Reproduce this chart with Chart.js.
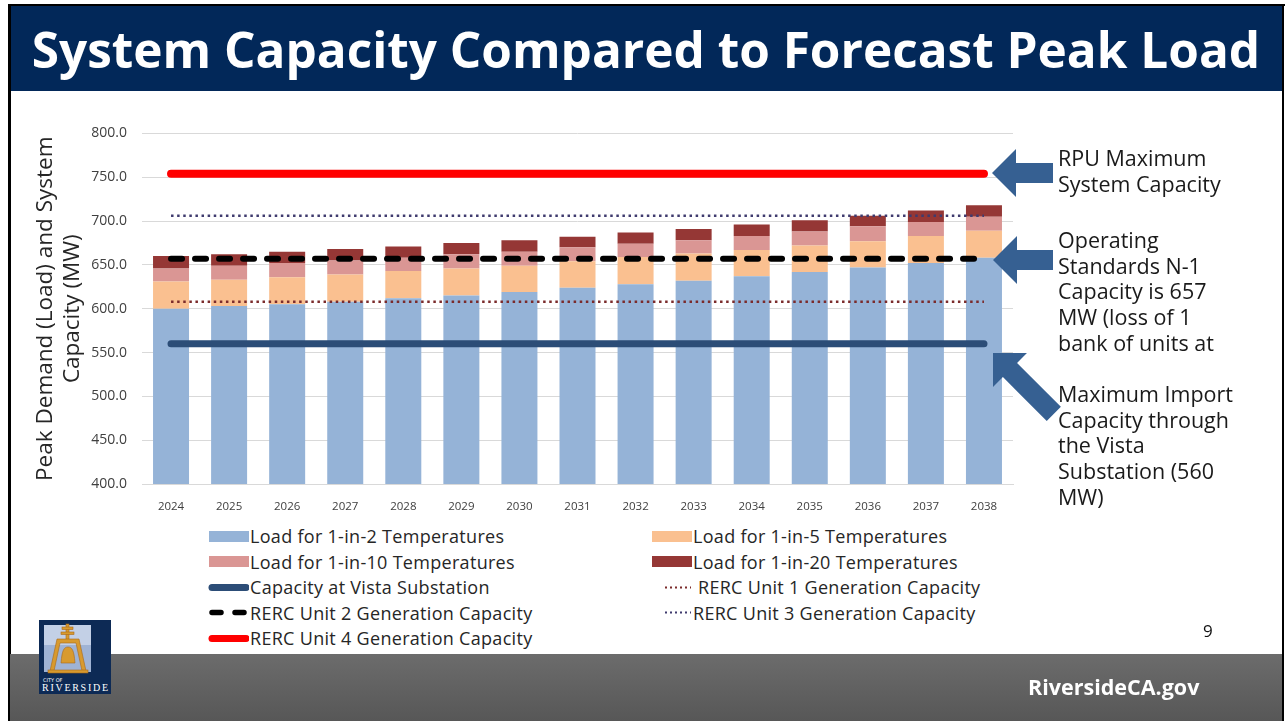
<!DOCTYPE html>
<html>
<head>
<meta charset="utf-8">
<script src="https://cdn.jsdelivr.net/npm/chart.js@4.4.0/dist/chart.umd.min.js"></script>
<style>
  body { margin: 0; background: #fff; font-family: "Open Sans", sans-serif; }
  #slide { position: relative; width: 1286px; height: 721px; overflow: hidden; background: #fff; }
  .frame { position: absolute; background: #000; }
  #titleBar { position: absolute; left: 10px; top: 6px; width: 1272px; height: 85px; background: #022859;
              display: flex; align-items: center; justify-content: center; }
  #title { color: #fff; font-weight: 700; font-size: 46px; white-space: nowrap; display: inline-block; }
  #chartBox { position: absolute; left: 20px; top: 110px; width: 1010px; height: 410px; }
  .leg { position: absolute; height: 26px; display: flex; align-items: center; font-size: 18px;
         letter-spacing: 0.3px; color: #262626; white-space: pre; }
  .leg svg { margin-right: 1px; }
  .note { position: absolute; left: 1058px; font-size: 21.5px; line-height: 25.7px; color: #1a1a1a; white-space: pre; }
  #footer { position: absolute; left: 10px; top: 654px; width: 1272px; height: 67px;
            background: linear-gradient(#6c6c6c, #575757); }
  #site { position: absolute; left: 1028px; top: 672px; font-size: 21.5px; font-weight: 700; color: #fff; }
  #pageNo { position: absolute; left: 1203px; top: 619px; font-size: 17px; color: #111; }
</style>
</head>
<body>
<div id="slide">
  <div id="titleBar"><span id="title">System Capacity Compared to Forecast Peak Load</span></div>
  <div class="frame" style="left:8px;top:4px;width:1277px;height:2px;"></div>
  <div class="frame" style="left:8px;top:4px;width:2.5px;height:717px;"></div>
  <div class="frame" style="left:1282px;top:4px;width:2px;height:717px;"></div>

  <div id="chartBox"><canvas id="chart" width="1010" height="410"></canvas></div>
  <div id="legend"></div>

  <svg id="arrows" width="1286" height="721" style="position:absolute;left:0;top:0;pointer-events:none">
    <g fill="#366092">
      <polygon transform="translate(992,173)" points="0,0 24,-24 24,-10 61,-10 61,10 24,10 24,24"/>
      <polygon transform="translate(993,260)" points="0,0 24,-24 24,-10 60,-10 60,10 24,10 24,24"/>
      <polygon transform="translate(993,353) rotate(45)" points="0,0 24,-24 24,-10 86,-10 86,10 24,10 24,24"/>
    </g>
  </svg>

  <div class="note" style="top:145px">RPU Maximum
System Capacity</div>
  <div class="note" style="top:227px">Operating
Standards N-1
Capacity is 657
MW (loss of 1
bank of units at</div>
  <div class="note" style="top:381px">Maximum Import
Capacity through
the Vista
Substation (560
MW)</div>

  <div id="pageNo">9</div>
  <div id="footer"></div>
  <div id="site">RiversideCA.gov</div>

  <svg width="72" height="74" style="position:absolute;left:39px;top:620px">
    <rect width="72" height="74" fill="#0d2a55"/>
    <rect x="5" y="5" width="47" height="47" fill="#9fb3d4"/>
    <rect x="5" y="5" width="47" height="20" fill="#c3d0e6"/>
    <g fill="#d89a2e" stroke="#a8681a" stroke-width="0.6">
      <rect x="27" y="4" width="3" height="16"/>
      <rect x="23" y="7" width="11" height="2.5"/>
      <rect x="22" y="12" width="13" height="2.5"/>
      <polygon points="18,19 40,19 47,51 43,51 37,23 21,23 15,51 11,51"/>
      <path d="M22,43 C23,30 25,27 29,27 C33,27 35,30 36,43 Z"/>
      <rect x="9" y="50" width="40" height="3"/>
    </g>
    <text x="4" y="62" font-size="5" fill="#fff" font-family="DejaVu Sans">CITY OF</text>
    <text x="3" y="71" font-size="10" fill="#fff" font-family="Liberation Serif" textLength="66">RIVERSIDE</text>
  </svg>
</div>

<script>
// years on the x axis
const years = ['2024', '2025', '2026', '2027', '2028', '2029', '2030', '2031',
               '2032', '2033', '2034', '2035', '2036', '2037', '2038'];

// stacked load pieces (MW), each on top of the previous one
const load1in2  = [600, 603, 605, 608, 612, 615, 619, 624, 628, 632, 637, 642, 647, 652, 658];
const load1in5  = [31, 30, 31, 31, 31, 31, 30, 30, 31, 31, 30, 30, 30, 31, 31];
const load1in10 = [15, 16, 16, 16, 15, 16, 16, 16, 15, 15, 16, 16, 17, 16, 16];
const load1in20 = [14, 13, 13, 13, 13, 13, 13, 12, 13, 13, 13, 13, 12, 13, 13];

// capacity lines (MW)
const vistaCap = [560, 560, 560, 560, 560, 560, 560, 560, 560, 560, 560, 560, 560, 560, 560];
const rercUnit1 = [608, 608, 608, 608, 608, 608, 608, 608, 608, 608, 608, 608, 608, 608, 608];
const rercUnit2 = [657, 657, 657, 657, 657, 657, 657, 657, 657, 657, 657, 657, 657, 657, 657];
const rercUnit3 = [706, 706, 706, 706, 706, 706, 706, 706, 706, 706, 706, 706, 706, 706, 706];
const rercUnit4 = [754, 754, 754, 754, 754, 754, 754, 754, 754, 754, 754, 754, 754, 754, 754];

const yTicks = { min: 400, max: 800, step: 50 };

// fit the title to the width of the original
const title = document.getElementById('title');
let fs = 40;
title.style.fontSize = fs + 'px';
while (title.offsetWidth < 1223 && fs < 70) {
  fs += 0.25;
  title.style.fontSize = fs + 'px';
}

function bar(label, data, color) {
  return { type: 'bar', label, data, backgroundColor: color, stack: 'load', order: 2,
           barPercentage: 0.62, categoryPercentage: 1.0 };
}

function line(label, data, color, width, dash, cap, stack) {
  return { type: 'line', label, data, borderColor: color, backgroundColor: color, borderWidth: width,
           borderDash: dash, borderCapStyle: cap, pointRadius: 0, fill: false, stack, order: 1 };
}

const datasets = [
  bar('Load for 1-in-2 Temperatures', load1in2, '#95b3d7'),
  bar('Load for 1-in-5 Temperatures', load1in5, '#fac090'),
  bar('Load for 1-in-10 Temperatures', load1in10, '#da9694'),
  bar('Load for 1-in-20 Temperatures', load1in20, '#953735'),
  line('Capacity at Vista Substation', vistaCap, '#2c4d77', 7, [], 'round', 'l0'),
  line(' RERC Unit 1 Generation Capacity', rercUnit1, '#7b2b2b', 2.5, [2.5, 3.6], 'butt', 'l1'),
  line('RERC Unit 2 Generation Capacity', rercUnit2, '#000000', 6, [11, 13], 'round', 'l2'),
  line('RERC Unit 3 Generation Capacity', rercUnit3, '#3f3b6e', 2.5, [2.5, 3.6], 'butt', 'l3'),
  line('RERC Unit 4 Generation Capacity', rercUnit4, '#ff0000', 8, [], 'round', 'l4')
];

const ctx = document.getElementById('chart').getContext('2d');
const chart = new Chart(ctx, {
  data: { labels: years, datasets },
  options: {
    responsive: false,
    animation: false,
    layout: { padding: { left: 0, right: 17, top: 23, bottom: 0 } },
    plugins: { legend: { display: false }, tooltip: { enabled: false } },
    scales: {
      x: {
        stacked: true,
        grid: { display: false },
        border: { color: '#d9d9d9' },
        ticks: { color: '#404040', font: { family: 'Open Sans', size: 11.5 }, padding: 8, maxRotation: 0 },
        afterFit: s => { s.height = 36; }
      },
      y: {
        stacked: true,
        min: yTicks.min,
        max: yTicks.max,
        grid: { color: '#d9d9d9', drawTicks: false },
        border: { display: false },
        ticks: {
          stepSize: yTicks.step,
          padding: 15,
          color: '#404040',
          font: { family: 'Open Sans', size: 14 },
          callback: v => v.toFixed(1)
        },
        title: {
          display: true,
          text: ['Peak Demand (Load) and System', 'Capacity (MW)'],
          color: '#262626',
          font: { family: 'Open Sans', size: 22.5, lineHeight: 1.2 },
          padding: { top: 12, bottom: 0 }
        },
        afterFit: s => { s.width = 122; }
      }
    }
  }
});

// legend in two columns, like the original
const legend = document.getElementById('legend');
datasets.forEach((ds, i) => {
  const col = i % 2, row = Math.floor(i / 2);
  const el = document.createElement('div');
  el.className = 'leg';
  el.style.left = (col ? 651 : 208) + 'px';
  el.style.top = (523 + row * 25.5) + 'px';
  let sym;
  if (ds.type === 'bar') {
    sym = `<rect x="1" y="7" width="40" height="11" fill="${ds.backgroundColor}"/>`;
  } else if (ds.borderWidth < 3) {
    sym = `<line x1="14" y1="12.5" x2="40" y2="12.5" stroke="${ds.borderColor}" stroke-width="2"
            stroke-dasharray="2 3"/>`;
  } else if (ds.borderDash.length) {
    sym = `<line x1="4" y1="12.5" x2="38" y2="12.5" stroke="${ds.borderColor}" stroke-width="5.5"
            stroke-linecap="round" stroke-dasharray="9 14"/>`;
  } else {
    sym = `<line x1="4" y1="12.5" x2="38" y2="12.5" stroke="${ds.borderColor}"
            stroke-width="${Math.min(ds.borderWidth, 7)}" stroke-linecap="round"/>`;
  }
  el.innerHTML = `<svg width="41" height="25">${sym}</svg><span>${ds.label}</span>`;
  legend.appendChild(el);
});
</script>
</body>
</html>
